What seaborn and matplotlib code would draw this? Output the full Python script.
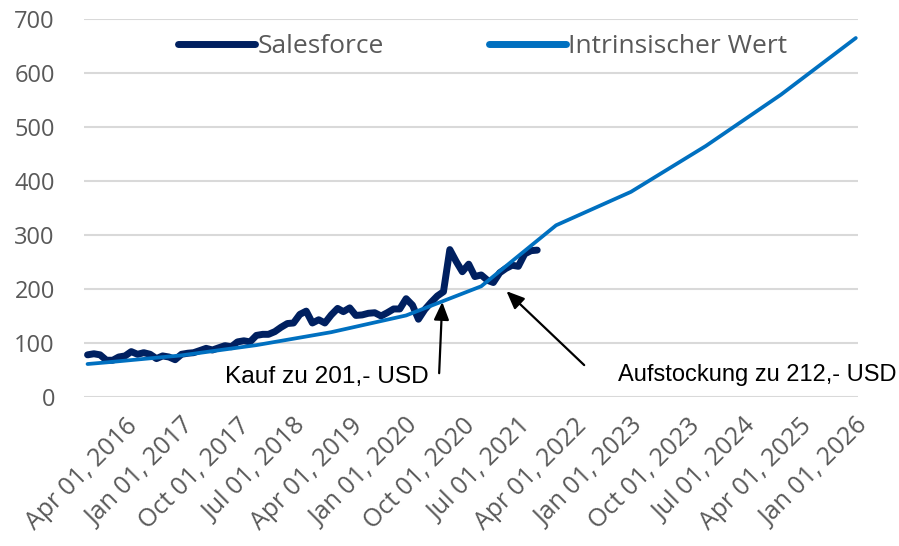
import matplotlib
matplotlib.use("Agg")
import matplotlib.pyplot as plt
from matplotlib.lines import Line2D
import pandas as pd
import seaborn as sns

# Salesforce monthly closes
price_months = pd.date_range("2015-10-01", "2021-10-01", freq="MS")
price_values = [
    78, 80, 78,
    68, 68, 74, 76, 84, 79, 82, 79, 71, 76, 74, 69,
    79, 81, 82, 86, 90, 87, 91, 95, 93, 102, 104, 102,
    114, 116, 116, 121, 129, 136, 137, 153, 159, 137, 143, 137,
    152, 164, 158, 165, 151, 152, 155, 156, 150, 156, 163, 163,
    182, 170, 144, 162, 175, 187, 195, 273, 251, 232, 246, 223,
    226, 216, 212, 230, 238, 244, 242, 265, 271, 272,
]

# intrinsic value estimate (yearly points)
value_dates = pd.to_datetime([
    "2015-10-01", "2016-01-01", "2017-01-01", "2018-01-01", "2019-01-01",
    "2020-01-01", "2021-01-01", "2022-01-01", "2023-01-01", "2024-01-01",
    "2025-01-01", "2026-01-01",
])
value_values = [61, 64, 77, 96, 120, 151, 205, 318, 380, 465, 560, 665]

tick_dates = pd.date_range("2016-04-01", "2026-01-01", freq="9MS")
tick_labels = [d.strftime("%b %d, %Y") for d in tick_dates]

NAVY = "#002060"
BLUE = "#0070C0"
GRAY = "#595959"

sns.set_theme(style="white")
plt.rcParams["font.family"] = ["Open Sans", "DejaVu Sans"]

fig, ax = plt.subplots(figsize=(8.99, 5.46), dpi=100)
fig.subplots_adjust(left=0.0935, right=0.954, bottom=0.273, top=0.965)

price_df = pd.DataFrame({"date": price_months, "value": price_values})
value_df = pd.DataFrame({"date": value_dates, "value": value_values})

sns.lineplot(data=price_df, x="date", y="value", color=NAVY, lw=5,
             solid_capstyle="round", solid_joinstyle="round", ax=ax, zorder=3)
sns.lineplot(data=value_df, x="date", y="value", color=BLUE, lw=2.7,
             solid_capstyle="round", ax=ax, zorder=4)

ax.set_xlim(pd.Timestamp("2015-09-14"), pd.Timestamp("2026-01-10"))
ax.set_ylim(0, 700)
ax.set_yticks(range(0, 800, 100))
ax.set_xticks(tick_dates)
ax.set_xticklabels(tick_labels, rotation=45, ha="right", rotation_mode="anchor")
ax.set_xlabel("")
ax.set_ylabel("")

ax.yaxis.grid(True, color="#d9d9d9", lw=1.5)
ax.xaxis.grid(False)
sns.despine(ax=ax, left=True, bottom=True)
ax.tick_params(axis="y", length=0, pad=21, labelsize=17, labelcolor=GRAY)
ax.tick_params(axis="x", length=0, pad=12, labelsize=18, labelcolor=GRAY)

handles = [
    Line2D([], [], color=NAVY, lw=5, solid_capstyle="round"),
    Line2D([], [], color=BLUE, lw=5, solid_capstyle="round"),
]
leg = ax.legend(handles, ["Salesforce", "Intrinsischer Wert"], ncol=2,
                loc="center", bbox_to_anchor=(0.537, 0.914),
                bbox_transform=fig.transFigure, frameon=False,
                fontsize=19, handlelength=2.9, handletextpad=0.1,
                columnspacing=4.0, borderpad=0)
for t in leg.get_texts():
    t.set_color(GRAY)

arrow = dict(arrowstyle="-|>,head_length=0.4,head_width=0.17",
             mutation_scale=27, lw=1.6, color="black", shrinkA=0, shrinkB=0)
ax.annotate("", xy=(pd.Timestamp("2020-06-25"), 176),
            xytext=(pd.Timestamp("2020-06-10"), 44), arrowprops=arrow)
ax.annotate("", xy=(pd.Timestamp("2021-05-04"), 196),
            xytext=(pd.Timestamp("2022-05-18"), 59), arrowprops=arrow)

ax.text(pd.Timestamp("2020-04-22"), 37, "Kauf zu 201,- USD", ha="right",
        va="center", fontsize=17.6, family="Liberation Sans", color="black")
fig.text(896 / 899, 1 - 375 / 546, "Aufstockung zu 212,- USD", ha="right",
         va="center", fontsize=17, family="Liberation Sans", color="black")

fig.savefig("out.png", dpi=100)
